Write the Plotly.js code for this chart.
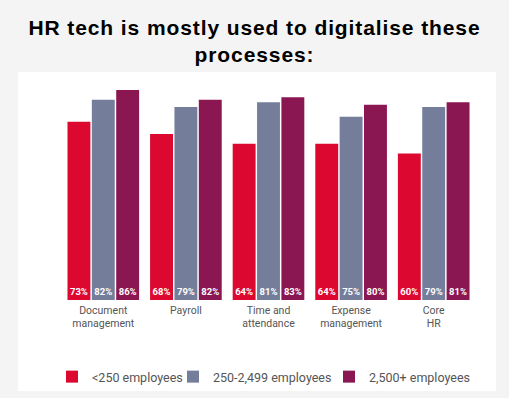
<!DOCTYPE html>
<html>
<head>
<meta charset="utf-8">
<script src="https://cdn.plot.ly/plotly-3.0.1.min.js"></script>
<style>
html,body{margin:0;padding:0;background:#f4f4f4;}
#chart{width:509px;height:398px;}
.gtitle{letter-spacing:0.9px;}
</style>
</head>
<body>
<div id="chart"></div>
<script>
const categories = ["Document<br>management", "Payroll", "Time and<br>attendance", "Expense<br>management", "Core<br>HR"];
const seriesNames = ["<250 employees", "250-2,499 employees", "2,500+ employees"];
const small = [73, 68, 64, 64, 60];
const medium = [82, 79, 81, 75, 79];
const large = [86, 82, 83, 80, 81];
const colors = ["#DC0830", "#747E9B", "#8A1652"];

const W = 509, H = 398, L = 62, R = 34, T = 90, B = 98;
const pw = W - L - R, ph = H - T - B;
// legend left-edge positions in pixels (one legend per series)
const legendX = [52, 173, 329];

const values = [small, medium, large];
const legendIds = ["legend", "legend2", "legend3"];
const traces = values.map((v, i) => ({
  type: "bar",
  name: seriesNames[i],
  legend: legendIds[i],
  x: categories,
  y: v,
  marker: {color: colors[i], line: {width: 0}},
  texttemplate: "%{y}%",
  textposition: "inside",
  insidetextanchor: "start",
  textangle: 0,
  constraintext: "none",
  textfont: {family: "Roboto", size: 9.5, color: "#ffffff", weight: "bold"},
  hoverinfo: "none"
}));

const layout = {
  width: W, height: H,
  margin: {l: L, r: R, t: T, b: B, pad: 0, autoexpand: false},
  paper_bgcolor: "#f4f4f4",
  plot_bgcolor: "rgba(0,0,0,0)",
  barmode: "group",
  bargap: 0.115,
  bargroupgap: 0.06,
  showlegend: true,
  title: {
    text: "HR tech is mostly used to digitalise these<br>processes:",
    font: {family: "Liberation Sans", size: 21, color: "#000000", weight: "bold"},
    x: 0.5, xanchor: "center", xref: "container",
    y: 1 - 35 / H, yanchor: "middle", yref: "container"
  },
  xaxis: {
    showline: false, showgrid: false, zeroline: false, ticks: "",
    tickfont: {family: "Roboto", size: 10.5, color: "#555555"},
    ticklabelstandoff: 2,
    automargin: false,
    fixedrange: true
  },
  yaxis: {
    range: [0, 86], visible: false, showgrid: false, zeroline: false, fixedrange: true, automargin: false
  },
  shapes: [{
    type: "rect", xref: "paper", yref: "paper", layer: "below",
    x0: (18 - L) / pw, x1: (496 - L) / pw,
    y0: (T + ph - 391) / ph, y1: (T + ph - 72) / ph,
    fillcolor: "#ffffff", line: {width: 0}
  }]
};
legendIds.forEach((id, i) => {
  layout[id] = {
    orientation: "h", xref: "container", yref: "container",
    x: legendX[i] / W, xanchor: "left", y: 1 - 377 / H, yanchor: "middle",
    font: {family: "Roboto", size: 12.5, color: "#555555"},
    bgcolor: "rgba(0,0,0,0)", itemwidth: 30
  };
});

Plotly.newPlot("chart", traces, layout, {displayModeBar: false, staticPlot: true});
</script>
</body>
</html>
